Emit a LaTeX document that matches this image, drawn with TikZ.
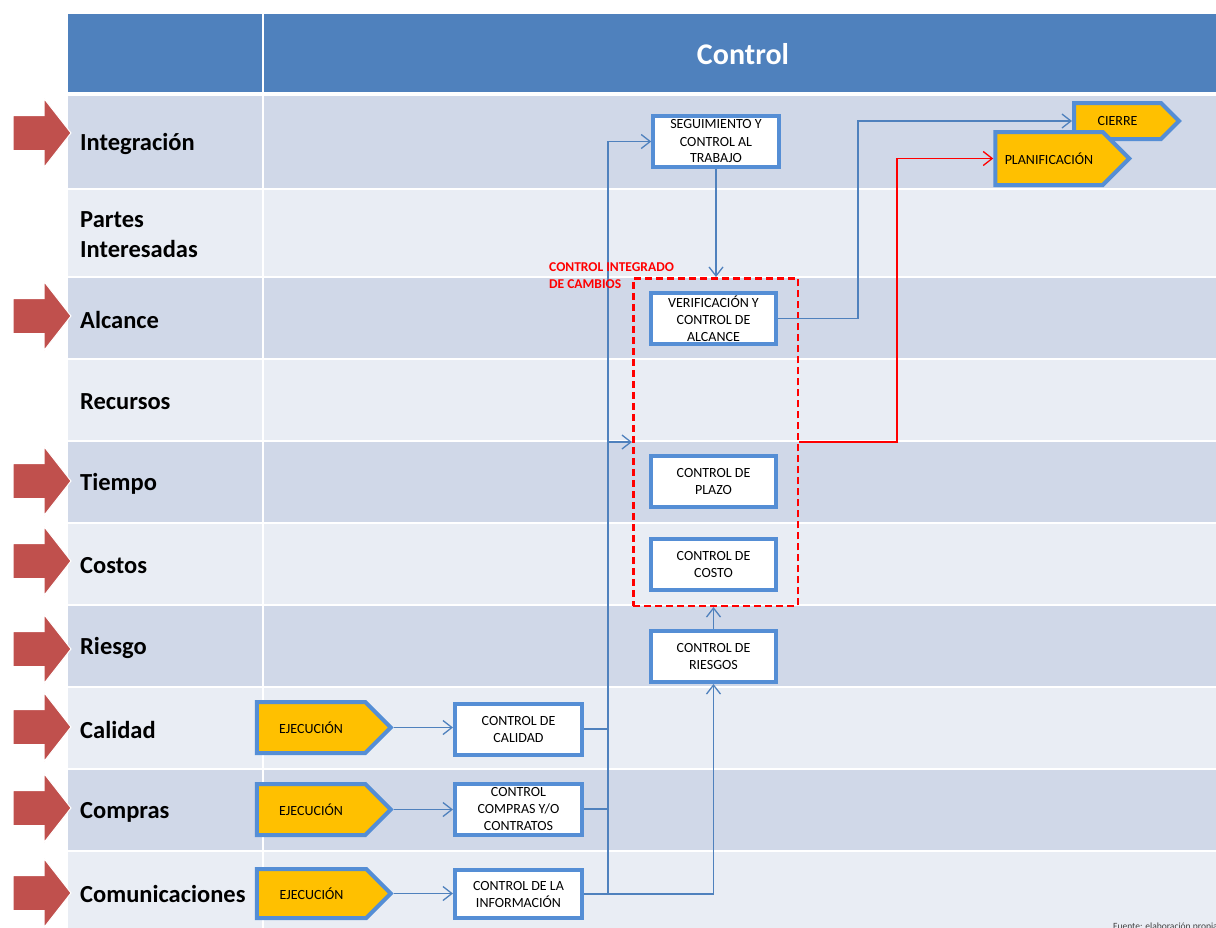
\documentclass[tikz,border=0pt]{standalone}
\usepackage{fontspec}
\setmainfont{Carlito}
\usetikzlibrary{arrows.meta,shapes.symbols}
\definecolor{hdrblue}{HTML}{4F81BD}
\definecolor{rowdark}{HTML}{D0D8E8}
\definecolor{rowlight}{HTML}{E9EDF4}
\definecolor{boxblue}{HTML}{558ED5}
\definecolor{linkblue}{HTML}{4F81BD}
\definecolor{amber}{HTML}{FFC000}
\definecolor{arrowred}{HTML}{C0504D}

\begin{document}
\begin{tikzpicture}[x=1pt,y=-1pt,
  box/.style={draw=boxblue,line width=4pt,fill=white,minimum width=125.5pt,minimum height=51pt,
    align=center,inner sep=2pt,font=\fontsize{14}{17}\selectfont},
  phase/.style={shape=signal,signal to=east,signal pointer angle=90,draw=boxblue,line width=4pt,
    fill=amber,inner sep=2pt,font=\fontsize{14}{17}\selectfont},
  link/.style={draw=linkblue,line width=1.3pt},
  flow/.style={link,-{Straight Barb[length=9pt,width=14pt]}},
  lane/.style={anchor=west,align=left,inner sep=0pt,font=\fontsize{24.5}{30}\selectfont\bfseries}]
\useasboundingbox (0,0) rectangle (1216,927);

\fill[hdrblue] (68,14) rectangle (262,92);
\fill[hdrblue] (264,14) rectangle (1216,92);
\node[text=white,font=\fontsize{30}{36}\selectfont\bfseries] (title) at (743,54) {Control};

\foreach \top/\bot/\col in {96/188/rowdark,190/276/rowlight,278/358/rowdark,360/440/rowlight,
    442/522/rowdark,524/604/rowlight,606/686/rowdark,688/768/rowlight,770/850/rowdark,852/930/rowlight}{
  \fill[\col] (68,\top) rectangle (262,\bot);
  \fill[\col] (264,\top) rectangle (1216,\bot);
}

\foreach \y in {133,316,481,561,649,727,808,893}
  \draw[white,line width=1pt,fill=arrowred] (13,\y-17.5) -- (44,\y-17.5) -- (44,\y-34.5) -- (71,\y)
    -- (44,\y+34.5) -- (44,\y+17.5) -- (13,\y+17.5) -- cycle;

\node[lane] (lint) at (80,144) {Integración};
\node[lane] (lpart) at (80,235) {Partes\\Interesadas};
\node[lane] (lalc) at (80,320) {Alcance};
\node[lane] (lrec) at (80,402) {Recursos};
\node[lane] (ltie) at (80,484) {Tiempo};
\node[lane] (lcos) at (80,566) {Costos};
\node[lane] (lrie) at (80,648) {Riesgo};
\node[lane] (lcal) at (80,730) {Calidad};
\node[lane] (lcom) at (80,812) {Compras};
\node[lane] (lcomu) at (80,894) {Comunicaciones};

\node[draw=red,line width=2.5pt,dash pattern=on 7pt off 4pt,minimum width=164.5pt,minimum height=327.5pt]
  (cambios) at (715.5,442) {};

\node[box] (seg) at (716,141.5) {SEGUIMIENTO Y\\CONTROL AL\\TRABAJO};
\node[box] (verif) at (713.5,318.5) {VERIFICACIÓN Y\\CONTROL DE\\ALCANCE};
\node[box] (plazo) at (713.5,481) {CONTROL DE\\PLAZO};
\node[box] (costo) at (713.5,564.5) {CONTROL DE\\COSTO};
\node[box] (riesgos) at (713.5,656.5) {CONTROL DE\\RIESGOS};
\node[box,minimum width=127pt] (calidad) at (518.5,729) {CONTROL DE\\CALIDAD};
\node[box,minimum width=127pt] (compras) at (518.5,809) {CONTROL\\COMPRAS Y/O\\CONTRATOS};
\node[box,minimum width=127pt,minimum height=48pt] (info) at (518.5,894) {CONTROL DE LA\\INFORMACIÓN};

\node[phase,minimum width=134pt,minimum height=51pt] (ej1) at (311,727.5) {EJECUCIÓN};
\node[phase,minimum width=134pt,minimum height=51pt] (ej2) at (311,809.5) {EJECUCIÓN};
\node[phase,minimum width=134pt,minimum height=49pt] (ej3) at (311.5,893.5) {EJECUCIÓN};
\node[phase,minimum width=105pt,minimum height=36pt] (cierre) at (1117.5,121) {CIERRE};
\node[phase,minimum width=134pt,minimum height=53pt] (plan) at (1049,158.5) {PLANIFICACIÓN};

\draw[flow] (ej1.east) -- (ej1.east -| calidad.west);
\draw[flow] (ej2.east) -- (ej2.east -| compras.west);
\draw[flow] (ej3.east) -- (ej3.east -| info.west);

\coordinate (trunk) at (608,0);
\draw[link] (calidad.east) -- (calidad.east -| trunk);
\draw[link] (compras.east) -- (compras.east -| trunk);
\draw[flow] (info.east) -| (riesgos.south);
\draw[flow] (info.east -| trunk) |- (seg.west);
\draw[flow] (cambios.west -| trunk) -- (cambios.west);
\draw[flow] (seg.south) -- (seg.south |- cambios.north);
\draw[flow] (riesgos.north) -- (riesgos.north |- cambios.south);

\coordinate (bluebend) at (858,121);
\draw[flow] (verif.east) -| (bluebend) -- (cierre.west);
\coordinate (redbend) at (897,158.5);
\draw[flow,draw=red] (cambios.east) -| (redbend) -- (plan.west);

\node[text=red,anchor=base west,align=left,inner sep=0pt,font=\fontsize{13.5}{17}\selectfont\bfseries]
  (cambiostxt) at (549,288) {CONTROL INTEGRADO\\DE CAMBIOS};

\node[anchor=north west,inner sep=0pt,text=black!75,font=\fontsize{9.5}{11}\selectfont] (fuente)
  at (1113,922.5) {Fuente: elaboración propia};
\end{tikzpicture}
\end{document}
